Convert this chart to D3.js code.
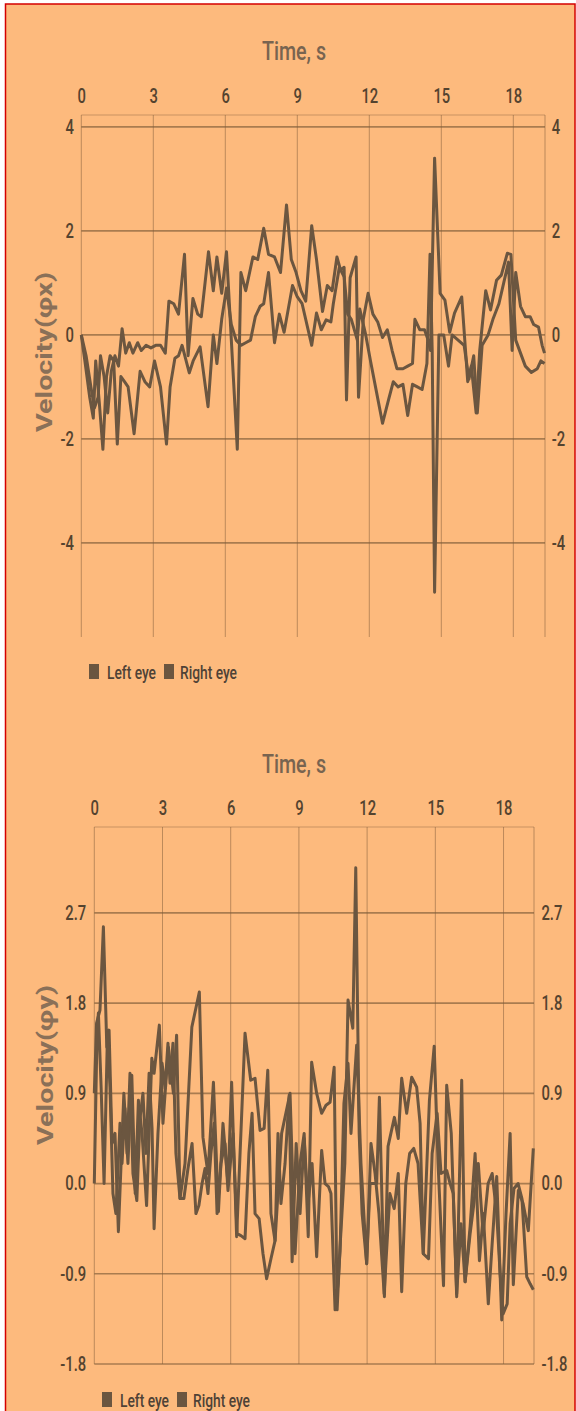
<!DOCTYPE html>
<html><head><meta charset="utf-8">
<script src="https://cdn.jsdelivr.net/npm/d3@7"></script>
<style>html,body{margin:0;padding:0;background:#fff;} svg{display:block;font-family:Roboto,"Noto Sans",sans-serif;}</style>
</head><body><svg id="c" width="576" height="1411"></svg>
<script>
// ---------- data ----------
const xTicks = [0, 3, 6, 9, 12, 15, 18];
const yTicks1 = [4, 2, 0, -2, -4];
const yTicks2 = [2.7, 1.8, 0.9, 0, -0.9, -1.8];
const seriesNames = ["Left eye", "Right eye"];
const xTitle = "Time, s";
const yTitle1 = "Velocity(φx)";
const yTitle2 = "Velocity(φy)";

// Chart 1 (φx)
const leftT1 = [0,0.2,0.4,0.55,0.7,0.8,0.95,1.1,1.25,1.4,1.55,1.7,1.85,2.0,2.15,2.35,2.5,2.7,2.9,3.1,3.3,3.5,3.65,3.85,4.05,4.3,4.45,4.65,4.85,5.0,5.3,5.5,5.65,5.85,6.05,6.5,6.65,6.85,7.15,7.35,7.6,7.8,8.05,8.3,8.55,8.75,8.95,9.15,9.35,9.6,9.8,10.05,10.25,10.45,10.65,10.8,10.95,11.05,11.2,11.45,11.55,11.75,11.95,12.15,12.35,12.55,12.75,12.95,13.15,13.4,13.6,13.8,13.9,14.1,14.3,14.45,14.55,14.72,14.95,15.15,15.35,15.55,15.85,16.1,16.25,16.45,16.6,16.85,17.05,17.3,17.5,17.75,17.9,18.1,18.3,18.5,18.75,19.0,19.15,19.3];
const leftV1 = [0,-0.4,-1.0,-1.4,-1.2,-0.4,-0.8,-1.5,-0.7,-0.4,-0.6,0.12,-0.35,-0.15,-0.35,-0.15,-0.3,-0.2,-0.25,-0.2,-0.2,-0.35,0.65,0.6,0.4,1.55,-0.4,0.7,0.4,0.35,1.6,0.85,1.5,0.8,1.6,-2.2,1.2,0.85,1.5,1.45,2.05,1.55,1.5,1.2,2.5,1.45,1.2,0.85,0.65,2.1,1.45,0.45,0.95,0.85,1.5,1.25,1.3,-1.25,1.1,1.5,-1.2,0.3,0.8,0.4,0.25,-0.05,0.1,-0.3,-0.65,-0.65,-0.6,-0.55,0.3,0.1,0.1,-0.1,-0.3,3.4,0.8,0.67,0.05,0.42,0.73,-0.9,-0.6,-1.5,-0.3,0.85,0.48,1.05,1.15,1.57,1.55,-0.1,-0.35,-0.6,-0.72,-0.65,-0.5,-0.55];
const rightT1 = [0,0.15,0.35,0.5,0.6,0.75,0.9,1.05,1.2,1.35,1.5,1.65,1.8,1.95,2.2,2.45,2.65,2.85,3.05,3.3,3.55,3.7,3.9,4.05,4.2,4.5,4.66,4.95,5.28,5.5,5.65,5.85,6.05,6.25,6.45,6.65,6.85,7.05,7.25,7.45,7.6,7.8,8.05,8.25,8.45,8.8,9.0,9.2,9.6,9.8,10.0,10.2,10.4,10.5,10.75,10.95,11.1,11.25,11.5,11.6,11.85,12.05,12.3,12.55,12.8,13.0,13.2,13.4,13.6,13.8,14.0,14.2,14.4,14.53,14.62,14.72,14.9,15.1,15.3,15.45,15.7,15.95,16.15,16.35,16.5,16.7,16.95,17.15,17.4,17.6,17.8,17.95,18.1,18.3,18.5,18.7,18.85,19.05,19.2,19.3];
const rightV1 = [0,-0.5,-1.2,-1.6,-0.5,-1.3,-2.2,-0.8,-0.4,-0.5,-2.1,-0.8,-0.9,-1.0,-1.9,-0.7,-0.9,-1.0,-0.5,-1.0,-2.1,-1.0,-0.45,-0.4,-0.2,-0.73,-0.5,-0.23,-1.38,0.0,-0.55,0.3,0.9,0.2,-0.1,-0.2,-0.15,-0.1,0.35,0.55,0.6,1.2,-0.15,0.4,0.05,0.95,0.73,0.6,-0.2,0.42,0.1,0.29,0.25,0.6,1.3,1.12,0.4,0.3,-0.1,0.5,0.0,-0.5,-1.1,-1.7,-1.25,-0.9,-1.0,-0.95,-1.55,-0.95,-1.0,-1.05,-0.55,1.55,-0.3,-4.95,0.0,0.0,-0.6,0.0,-0.1,-0.2,-0.85,-0.4,-1.5,-0.2,0.0,0.3,0.6,1.0,1.4,-0.3,1.2,0.55,0.35,0.35,0.2,0.15,-0.2,-0.35];

// Chart 2 (φy)
const leftT2 = [0,0.1,0.25,0.4,0.55,0.65,0.78,0.91,1.06,1.3,1.48,1.65,1.8,1.94,2.1,2.3,2.53,2.63,2.86,3.02,3.26,3.48,3.62,3.77,3.99,4.29,4.62,4.78,5.0,5.24,5.46,5.66,5.88,6.04,6.26,6.63,6.88,7.07,7.29,7.47,7.63,7.77,7.95,8.24,8.61,8.83,9.05,9.23,9.41,9.56,9.78,10.0,10.19,10.37,10.55,10.68,10.8,11.02,11.16,11.37,11.5,11.65,11.78,11.98,12.13,12.42,12.54,12.76,12.92,13.2,13.37,13.52,13.74,13.96,14.18,14.33,14.47,14.74,14.95,15.12,15.36,15.5,15.7,15.94,16.16,16.31,16.53,16.75,16.94,17.11,17.33,17.5,17.7,17.92,18.11,18.29,18.43,18.65,18.86,19.09,19.31];
const leftV2 = [0.9,1.6,1.73,2.56,1.36,1.53,0.4,0.5,-0.48,0.9,0.2,1.08,-0.1,0.83,0.5,-0.22,1.25,1.1,1.58,0.6,1.36,0.9,1.48,-0.15,0.2,1.56,1.91,0.46,0.1,1.01,-0.28,0.6,0.0,1.01,-0.53,1.5,1.03,1.05,0.53,0.55,1.13,-0.3,-0.57,0.5,0.9,-0.7,0.2,0.5,-0.53,1.21,0.9,0.7,0.78,0.81,1.16,-1.26,-0.67,0.2,1.83,1.55,3.15,0.5,-0.3,-0.8,0.0,0.0,0.86,-1.13,0.37,0.66,0.45,1.05,0.7,1.06,0.96,0.6,-0.7,0.83,1.37,0.2,-1.02,0.98,0.5,-1.13,1.03,-0.98,-0.43,0.3,-0.77,-0.3,-1.2,-0.6,0.07,-1.36,-0.3,0.5,-1.01,-0.07,-0.2,-0.47,0.35];
const rightT2 = [0,0.12,0.18,0.3,0.43,0.58,0.69,0.82,0.95,1.13,1.22,1.35,1.44,1.57,1.7,1.87,2.01,2.14,2.27,2.41,2.54,2.63,2.8,2.98,3.11,3.24,3.33,3.46,3.59,3.77,3.94,4.12,4.3,4.47,4.6,4.74,4.87,5.0,5.13,5.27,5.4,5.57,5.75,5.88,6.1,6.28,6.45,6.63,6.8,6.94,7.07,7.25,7.42,7.58,7.77,7.95,8.08,8.21,8.39,8.57,8.7,8.88,9.05,9.23,9.4,9.58,9.78,10.0,10.15,10.3,10.41,10.59,10.72,10.81,10.98,11.16,11.29,11.54,11.73,11.98,12.17,12.35,12.52,12.75,13.0,13.19,13.37,13.52,13.7,13.87,14.05,14.24,14.47,14.7,14.86,15.08,15.25,15.5,15.65,15.79,15.94,16.13,16.31,16.53,16.68,16.89,17.1,17.32,17.5,17.7,17.85,17.98,18.16,18.29,18.46,18.64,18.81,19.02,19.17,19.31];
const rightV2 = [0.0,1.5,1.7,0.96,0.0,1.5,0.96,-0.1,-0.3,0.6,0.2,0.75,0.3,1.1,0.1,-0.17,0.65,0.9,0.3,1.1,0.55,-0.45,0.5,1.2,0.95,1.4,1.0,1.4,0.3,-0.15,-0.15,0.15,0.4,-0.3,-0.22,0.0,0.15,-0.1,0.3,0.6,-0.3,0.2,0.4,-0.07,0.5,-0.5,-0.52,-0.55,0.3,0.7,-0.3,-0.35,-0.7,-0.95,-0.75,-0.57,0.5,-0.2,0.2,0.88,-0.78,0.4,-0.3,0.45,-0.2,0.2,-0.73,0.33,0.0,-0.03,-0.1,-1.26,-1.0,-0.67,0.8,1.2,0.5,1.38,0.2,-0.8,0.4,0.1,-0.3,-1.1,-0.1,-0.25,0.1,-1.08,0.0,0.3,0.35,0.2,-0.7,-0.75,0.3,0.7,0.1,0.13,0.0,-0.1,-1.1,-0.4,-0.98,-0.5,-0.23,0.2,-0.5,0.0,0.1,-0.3,-0.9,-1.3,-1.2,-0.4,-0.05,0.0,-0.15,-0.93,-1.0,-1.06];

// ---------- drawing ----------
const BG = "#fdba7d", LINE = "#6b5640", GRID = "#7d5a38";
const svg = d3.select("#c");
svg.append("rect").attr("x", 5.5).attr("y", 4).attr("width", 569.5).attr("height", 1420)
  .attr("fill", BG).attr("stroke", "#d40000").attr("stroke-width", 1.5);

function drawChart(c) {
  const x = d3.scaleLinear().domain([0, c.xMax]).range([c.left, c.right]);
  const y = d3.scaleLinear().domain(c.yDomain).range([c.bottom, c.top]);
  const g = svg.append("g");

  // top border
  g.append("line").attr("x1", c.left).attr("x2", c.right).attr("y1", c.top).attr("y2", c.top)
    .attr("stroke", GRID).attr("stroke-opacity", 0.4).attr("stroke-width", 1.2);
  // vertical grid
  g.selectAll(".vg").data(xTicks.concat([c.xMax])).join("line")
    .attr("x1", d => x(d)).attr("x2", d => x(d)).attr("y1", c.top).attr("y2", c.bottom)
    .attr("stroke", GRID).attr("stroke-opacity", 0.5).attr("stroke-width", 1);
  // horizontal grid
  g.selectAll(".hg").data(c.yTicks).join("line")
    .attr("x1", c.left).attr("x2", c.right).attr("y1", d => y(d)).attr("y2", d => y(d))
    .attr("stroke", GRID).attr("stroke-opacity", 0.65).attr("stroke-width", 1.7);

  // axes (labels only)
  const styleAxis = (sel) => {
    sel.select(".domain").remove();
    sel.selectAll(".tick line").remove();
    sel.selectAll("text").attr("font-size", 20).attr("font-weight", 500).attr("fill", "#54432f")
      .attr("font-family", "Roboto").attr("transform", "scale(0.74,1)");
  };
  g.append("g").attr("transform", `translate(0,${c.top})`)
    .call(d3.axisTop(x).tickValues(xTicks).tickSize(0).tickPadding(c.topPad).tickFormat(d => String(d)))
    .call(styleAxis);
  g.append("g").attr("transform", `translate(${c.left},0)`)
    .call(d3.axisLeft(y).tickValues(c.yTicks).tickSize(0).tickPadding(c.leftPad).tickFormat(c.fmt))
    .call(styleAxis);
  g.append("g").attr("transform", `translate(${c.right},0)`)
    .call(d3.axisRight(y).tickValues(c.yTicks).tickSize(0).tickPadding(c.rightPad).tickFormat(c.fmt))
    .call(styleAxis);

  // x title
  g.append("text").attr("x", 294).attr("y", c.titleY).attr("text-anchor", "middle")
    .attr("font-size", 26).attr("font-weight", 500).attr("fill", "#786450").attr("textLength", 64)
    .attr("lengthAdjust", "spacingAndGlyphs").text(xTitle);
  // y title
  g.append("text").attr("transform", `translate(${c.yTitlePos[0]},${c.yTitlePos[1]}) rotate(-90)`)
    .attr("text-anchor", "middle").attr("dominant-baseline", "central")
    .attr("font-size", 22).attr("font-weight", "bold").attr("fill", "#8a7058")
    .attr("textLength", 160).attr("lengthAdjust", "spacingAndGlyphs").text(c.yTitle);

  // lines
  const line = d3.line().x(d => x(d[0])).y(d => y(d[1]));
  c.series.forEach(s => {
    const pts = s.t.map((t, i) => [t, s.v[i]]);
    g.append("path").datum(pts).attr("d", line).attr("fill", "none")
      .attr("stroke", LINE).attr("stroke-width", 3).attr("stroke-linejoin", "round");
  });

  // legend
  const lg = g.append("g").attr("transform", `translate(${c.legendX},${c.legendY})`);
  const offs = [[0, 18, 49], [75, 91, 57]];
  seriesNames.forEach((n, i) => {
    lg.append("rect").attr("x", offs[i][0]).attr("y", -8).attr("width", 10).attr("height", 15).attr("fill", LINE);
    lg.append("text").attr("x", offs[i][1]).attr("y", 7).attr("font-size", 19).attr("font-weight", 500).attr("fill", "#4f4236")
      .attr("textLength", offs[i][2]).attr("lengthAdjust", "spacingAndGlyphs").text(n);
  });
}

drawChart({
  left: 81.3, right: 545, top: 115, bottom: 637, xMax: 19.32,
  yDomain: [-5.81, 4.23], yTicks: yTicks1, fmt: d => String(d),
  topPad: 12, leftPad: 10, rightPad: 9,
  titleY: 60, yTitle: yTitle1, yTitlePos: [44, 352],
  legendX: 89, legendY: 672,
  series: [{t: leftT1, v: leftV1}, {t: rightT1, v: rightV1}]
});
drawChart({
  left: 94.3, right: 534, top: 827, bottom: 1364, xMax: 19.34,
  yDomain: [-1.8, 3.556], yTicks: yTicks2, fmt: d => d.toFixed(1),
  topPad: 12.5, leftPad: 11, rightPad: 10,
  titleY: 773, yTitle: yTitle2, yTitlePos: [45, 1065],
  legendX: 102, legendY: 1400,
  series: [{t: leftT2, v: leftV2}, {t: rightT2, v: rightV2}]
});
</script></body></html>
